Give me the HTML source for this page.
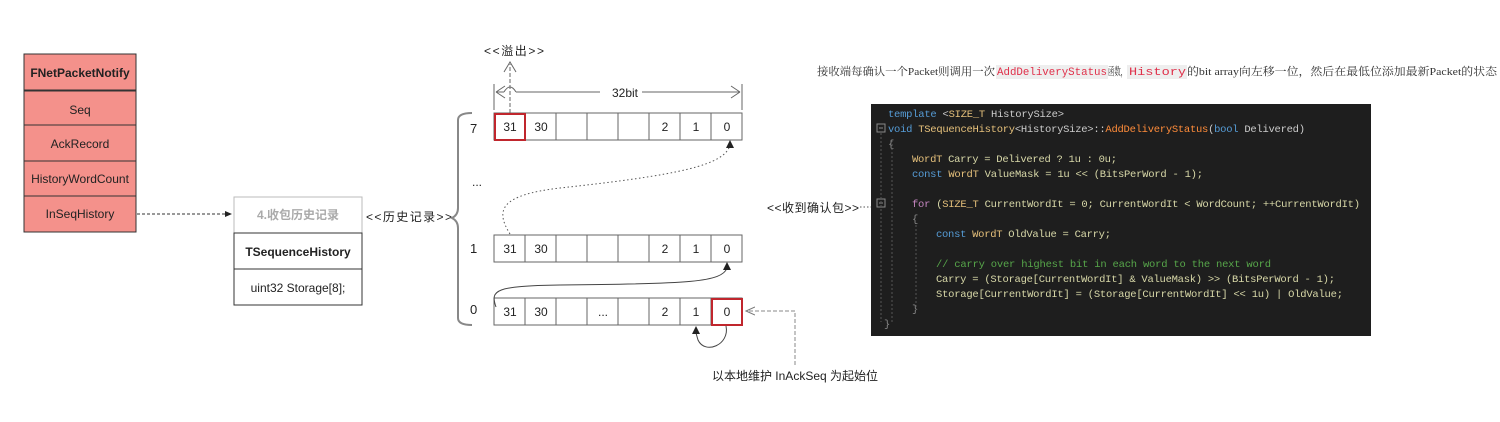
<!DOCTYPE html>
<html><head><meta charset="utf-8"><style>
html,body{margin:0;padding:0;background:#fff;}
svg{display:block;}
.t{font-family:"Liberation Sans","Noto Sans CJK SC",sans-serif;font-size:12px;fill:#222;}
.c{font-family:"Liberation Mono","Noto Sans CJK SC",monospace;font-size:10.5px;}
.d{font-family:'Liberation Serif','Noto Serif CJK SC',serif;font-size:11px;fill:#333;}
.m{font-family:'Liberation Mono',monospace;font-size:11px;fill:#e0304a;}
</style></head><body>
<svg width="1500" height="422" viewBox="0 0 1500 422" xmlns="http://www.w3.org/2000/svg">
<defs>
<marker id="a" markerWidth="8" markerHeight="8" refX="7" refY="4" orient="auto"><path d="M0,1 L7,4 L0,7 z" fill="#222"/></marker>
<marker id="o" markerWidth="10" markerHeight="10" refX="9" refY="5" orient="auto"><path d="M0,1 L9,5 L0,9" fill="none" stroke="#777"/></marker>
</defs>
<g stroke="#333" stroke-width="1" fill="#f4918b">
<rect x="24" y="54" width="112" height="36"/>
<rect x="24" y="91" width="112" height="34"/>
<rect x="24" y="125" width="112" height="36"/>
<rect x="24" y="161" width="112" height="35"/>
<rect x="24" y="196" width="112" height="36"/>
</g>
<g class="t" text-anchor="middle">
<text x="80" y="77" font-weight="bold">FNetPacketNotify</text>
<text x="80" y="114">Seq</text>
<text x="80" y="148">AckRecord</text>
<text x="80" y="183">HistoryWordCount</text>
<text x="80" y="218">InSeqHistory</text>
</g>
<line x1="137" y1="214" x2="232" y2="214" stroke="#333" stroke-dasharray="3,2" marker-end="url(#a)"/>
<rect x="234" y="197" width="128" height="36" fill="#fff" stroke="#bbb"/>
<rect x="234" y="233" width="128" height="36" fill="#fff" stroke="#333"/>
<rect x="234" y="269" width="128" height="36" fill="#fff" stroke="#333"/>
<g class="t" text-anchor="middle">
<text x="298" y="219" font-weight="bold" style="fill:#aaa">4.收包历史记录</text>
<text x="298" y="256" font-weight="bold">TSequenceHistory</text>
<text x="298" y="292">uint32 Storage[8];</text>
</g>
<text class="t" x="366" y="221" textLength="86">&lt;&lt;历史记录&gt;&gt;</text>
<path d="M472,113 Q458,113 458,120 L458,208 Q458,215 452,218 Q458,221 458,228 L458,318 Q458,325 472,325" fill="none" stroke="#888" stroke-width="2"/>
<g class="t">
<text x="470" y="133" style="font-size:13px">7</text>
<text x="472" y="186">...</text>
<text x="470" y="253" style="font-size:13px">1</text>
<text x="470" y="314" style="font-size:13px">0</text>
</g>
<g stroke="#666" fill="#fff">
<rect x="494" y="113" width="248" height="27"/>
<rect x="494" y="235" width="248" height="27"/>
<rect x="494" y="298" width="248" height="27"/>
<path d="M525,113V140M556,113V140M587,113V140M618,113V140M649,113V140M680,113V140M711,113V140M525,235V262M556,235V262M587,235V262M618,235V262M649,235V262M680,235V262M711,235V262M525,298V325M556,298V325M587,298V325M618,298V325M649,298V325M680,298V325M711,298V325" fill="none"/>
</g>
<rect x="495" y="114" width="30" height="26" fill="none" stroke="#c0262d" stroke-width="2"/>
<rect x="712" y="299" width="30" height="26" fill="none" stroke="#c0262d" stroke-width="2"/>
<g class="t" text-anchor="middle">
<text x="510" y="131">31</text><text x="541" y="131">30</text><text x="665" y="131">2</text><text x="696" y="131">1</text><text x="727" y="131">0</text>
<text x="510" y="253">31</text><text x="541" y="253">30</text><text x="665" y="253">2</text><text x="696" y="253">1</text><text x="727" y="253">0</text>
<text x="510" y="316">31</text><text x="541" y="316">30</text><text x="603" y="316">...</text><text x="665" y="316">2</text><text x="696" y="316">1</text><text x="727" y="316">0</text>
</g>
<path d="M494,84V110M742,84V110" stroke="#666"/>
<path d="M496,92 L505,86 M496,92 L505,98 M496,92 L504,92 M516,92 L600,92 M642,92 L740,92 M740,92 L731,86 M740,92 L731,98" stroke="#666" fill="none"/>
<path d="M504,92 Q510,82 516,92" stroke="#666" fill="none"/>
<text class="t" x="625" y="97" text-anchor="middle">32bit</text>
<line x1="510" y1="113" x2="510" y2="64" stroke="#666" stroke-dasharray="4,2"/>
<path d="M504,72 L510,62 L516,72" stroke="#666" fill="none"/>
<text class="t" x="514" y="55" text-anchor="middle" textLength="60">&lt;&lt;溢出&gt;&gt;</text>
<path d="M510,234 C495,210 500,195 560,188 C680,175 725,165 730,145" fill="none" stroke="#555" stroke-dasharray="1.5,2.5"/>
<path d="M726,148 L730,140 L734,148 z" fill="#222"/>
<path d="M496,307 C490,290 495,286 560,285 C690,284 722,282 727,268" fill="none" stroke="#444"/>
<path d="M723,270 L727,262 L731,270 z" fill="#222"/>
<path d="M726,326 C730,345 705,355 698,340 L696,333" fill="none" stroke="#444"/>
<path d="M692,334 L696,326 L700,334 z" fill="#222"/>
<path d="M795,365 L795,311 L746,311" fill="none" stroke="#888" stroke-dasharray="4,2" marker-end="url(#o)"/>
<text class="t" x="795" y="380" text-anchor="middle">以本地维护 InAckSeq 为起始位</text>
<text class="t" x="767" y="212" textLength="92">&lt;&lt;收到确认包&gt;&gt;</text>
<line x1="860" y1="207" x2="872" y2="207" stroke="#555" stroke-dasharray="1.5,2"/>
<rect x="996" y="65" width="112" height="14" fill="#eee"/>
<rect x="1127" y="65" width="60" height="14" fill="#eee"/>
<text class="d" x="817" y="75" textLength="178" lengthAdjust="spacingAndGlyphs">接收端每确认一个Packet则调用一次</text>
<text class="m" x="997" y="75" textLength="110" lengthAdjust="spacingAndGlyphs">AddDeliveryStatus</text>
<text class="d" x="1108" y="75" textLength="19" lengthAdjust="spacingAndGlyphs">函数，</text>
<text class="m" x="1129" y="75" textLength="57" lengthAdjust="spacingAndGlyphs">History</text>
<text class="d" x="1187" y="75" textLength="310" lengthAdjust="spacingAndGlyphs">的bit array向左移一位，然后在最低位添加最新Packet的状态</text>
<rect x="871" y="104" width="500" height="232" fill="#1e1e1e"/>
<g class="c">
<text x="888" y="117" fill="#569cd6" textLength="176">template <tspan fill="#ccc">&lt;</tspan><tspan fill="#e5c07b">SIZE_T</tspan><tspan fill="#ccc"> HistorySize&gt;</tspan></text>
<text x="888" y="132" fill="#569cd6" textLength="417">void <tspan fill="#e5c07b">TSequenceHistory</tspan><tspan fill="#ccc">&lt;HistorySize&gt;::</tspan><tspan fill="#ff8c3a">AddDeliveryStatus</tspan><tspan fill="#ccc">(</tspan>bool<tspan fill="#ccc"> Delivered)</tspan></text>
<text x="888" y="147" fill="#888">{</text>
<text x="912" y="162" fill="#e5c07b" textLength="205">WordT <tspan fill="#d8d8a8">Carry = Delivered ? 1u : 0u;</tspan></text>
<text x="912" y="177" fill="#569cd6" textLength="291">const <tspan fill="#e5c07b">WordT</tspan><tspan fill="#d8d8a8"> ValueMask = 1u &lt;&lt; (BitsPerWord - 1);</tspan></text>
<text x="912" y="207" fill="#c586c0" textLength="448">for <tspan fill="#d8d8a8">(</tspan><tspan fill="#e5c07b">SIZE_T</tspan><tspan fill="#d8d8a8"> CurrentWordIt = 0; CurrentWordIt &lt; WordCount; ++CurrentWordIt)</tspan></text>
<text x="912" y="222" fill="#888">{</text>
<text x="936" y="237" fill="#569cd6" textLength="175">const <tspan fill="#e5c07b">WordT</tspan><tspan fill="#d8d8a8"> OldValue = Carry;</tspan></text>
<text x="936" y="267" fill="#57a64a" textLength="335">// carry over highest bit in each word to the next word</text>
<text x="936" y="282" fill="#d8d8a8" textLength="399">Carry = (Storage[CurrentWordIt] &amp; ValueMask) &gt;&gt; (BitsPerWord - 1);</text>
<text x="936" y="297" fill="#d8d8a8" textLength="407">Storage[CurrentWordIt] = (Storage[CurrentWordIt] &lt;&lt; 1u) | OldValue;</text>
<text x="912" y="312" fill="#888">}</text>
<text x="884" y="327" fill="#888">}</text>
</g>
<g fill="none" stroke="#888">
<rect x="877" y="124" width="8" height="8"/><path d="M879,128h4"/>
<rect x="877" y="199" width="8" height="8"/><path d="M879,203h4"/>
</g>
<path d="M881,133V322M892,140V322M916,225V310" stroke="#555" stroke-dasharray="2,2"/>
</svg>
</body></html>
